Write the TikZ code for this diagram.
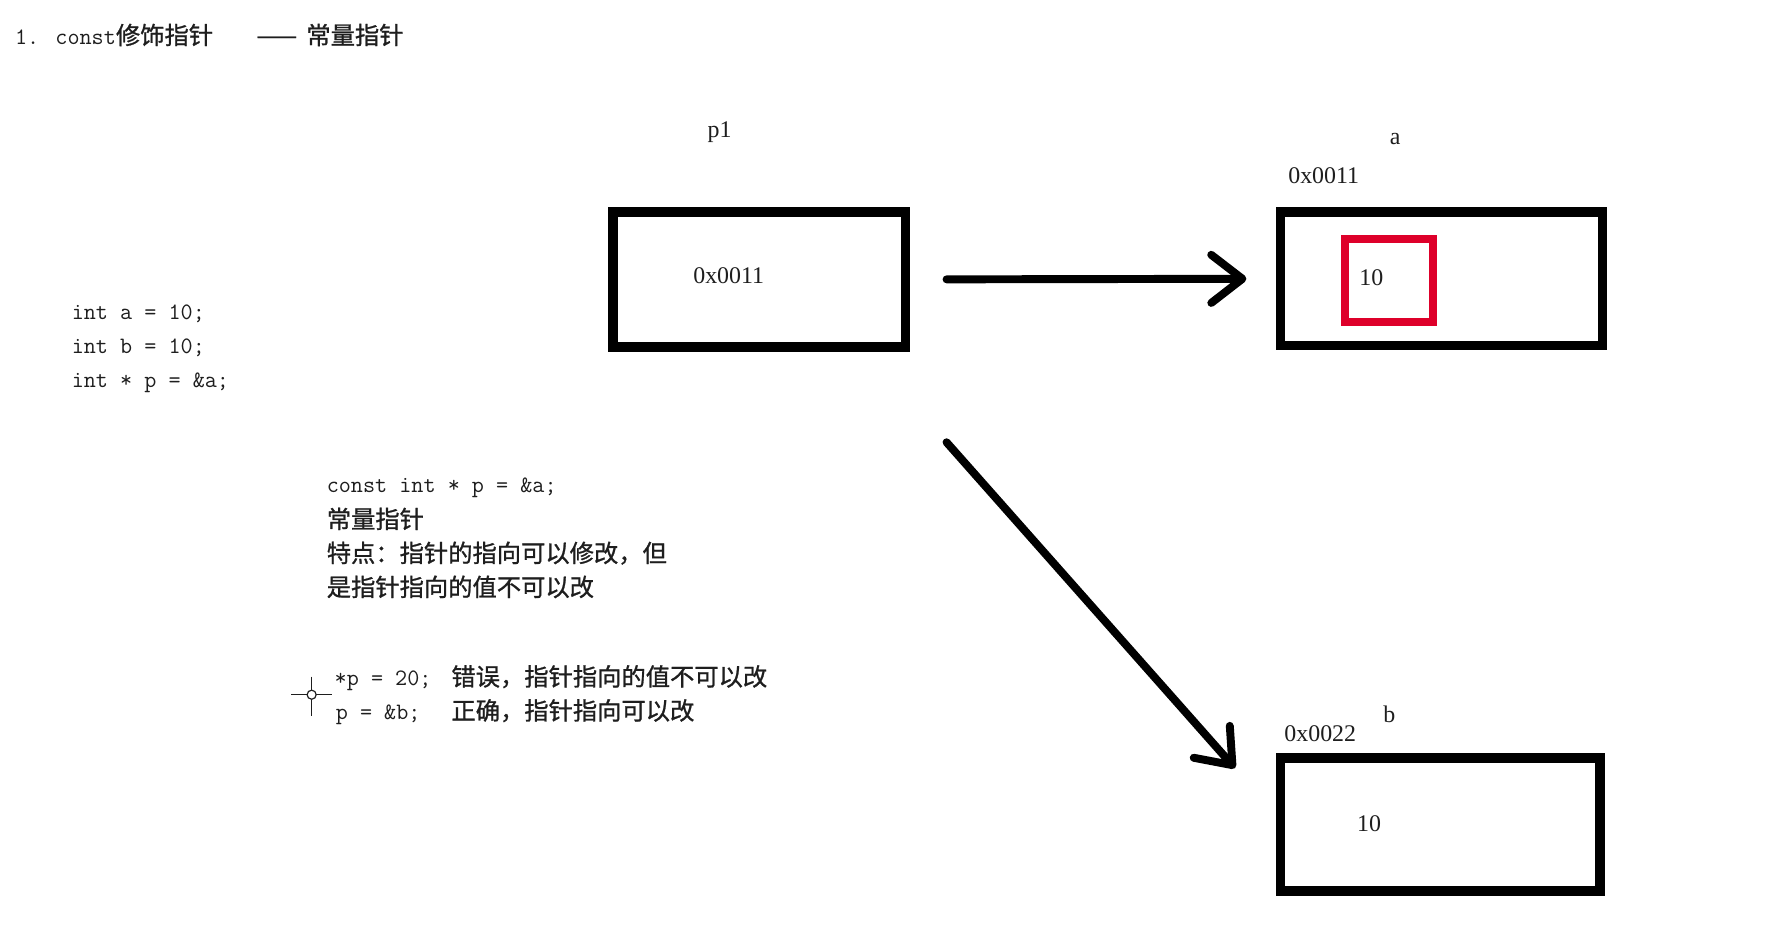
\documentclass[tikz,border=0pt]{standalone}
\usepackage{fontspec}
\setmainfont{Liberation Serif}
\newfontfamily\cjk{Noto Sans CJK SC}[FakeBold=1]
\usetikzlibrary{arrows.meta}
\definecolor{markred}{RGB}{222,0,42}
\definecolor{ink}{RGB}{30,30,30}

\begin{document}
\begin{tikzpicture}[x=0.02cm, y=-0.02cm,
		cell/.style={draw, line width=0.17cm, inner sep=0pt},
		code/.style={font=\ttfamily\fontsize{11.8}{14}\selectfont, anchor=base west, inner sep=0pt, text=ink},
		zh/.style={font=\cjk\fontsize{12.2}{14}\selectfont, anchor=base west, inner sep=0pt, text=ink},
		lbl/.style={font=\fontsize{12}{14}\selectfont, inner sep=0pt, text=ink},
		ptr/.style={line width=0.14cm, line cap=round, -{Straight Barb[length=0.55cm, width=0.85cm, round]}}]
		\useasboundingbox (0,0) rectangle (1568,821);
		% title
		\node[zh] (title) at (13,39) {{\ttfamily\fontsize{11.8}{14}\selectfont 1. const}修饰指针};
		\node[zh] (dash) at (226,39) {——};
		\node[zh] (sub) at (270,39) {常量指针};
		% declarations
		\node[code] (decla) at (63,282) {int a = 10;};
		\node[code] (declb) at (63,312) {int b = 10;};
		\node[code] (declp) at (63,342) {int * p = \&a;};
		% memory cells
		\node[cell, minimum width=5.16cm, minimum height=2.38cm] (p1) at (670,246.5) {};
		\node[lbl] (p1name) at (635,117) {p1};
		\node[lbl] (p1val) at (643,243) {0x0011};
		\node[cell, minimum width=5.68cm, minimum height=2.36cm] (a) at (1272,246) {};
		\node[lbl] (aname) at (1231,123) {a};
		\node[lbl] (aaddr) at (1168,155) {0x0011};
		\node[draw=markred, line width=0.14cm, minimum width=1.56cm, minimum height=1.48cm, inner sep=0pt] (aval) at (1225.5,247.5) {};
		\node[lbl] (anum) at (1210,245) {10};
		\node[cell, minimum width=5.64cm, minimum height=2.34cm] (b) at (1271,727.5) {};
		\node[lbl] (bname) at (1226,630) {b};
		\node[lbl] (baddr) at (1165,647) {0x0022};
		\node[lbl] (bnum) at (1208,727) {10};
		% pointers
		\draw[ptr] ([shift={(32,0)}]p1.east) -- ([shift={(-26,0)}]a.west);
		\draw[ptr] ([shift={(32,80)}]p1.south east) -- ([shift={(-36,13)}]b.north west);
		% notes
		\node[code] (cdecl) at (288,435) {const int * p = \&a;};
		\node[zh] (cname) at (288,466) {常量指针};
		\node[zh] (cnote1) at (288,496) {特点：指针的指向可以修改，但};
		\node[zh] (cnote2) at (288,526) {是指针指向的值不可以改};
		\node[code] (try1) at (295,605) {*p = 20;};
		\node[zh] (res1) at (398,605) {错误，指针指向的值不可以改};
		\node[code] (try2) at (296,635) {p = \&b;};
		\node[zh] (res2) at (398,635) {正确，指针指向可以改};
		% cursor
		\coordinate (cur) at (275,613);
		\draw[ink, line width=0.7pt] ([shift={(0,-16)}]cur) -- ([shift={(0,19)}]cur);
		\draw[ink, line width=0.7pt] ([shift={(-18,0)}]cur) -- ([shift={(18,0)}]cur);
		\draw[ink, line width=0.6pt, fill=white] (cur) circle[radius=0.08cm];
	\end{tikzpicture}
\end{document}
